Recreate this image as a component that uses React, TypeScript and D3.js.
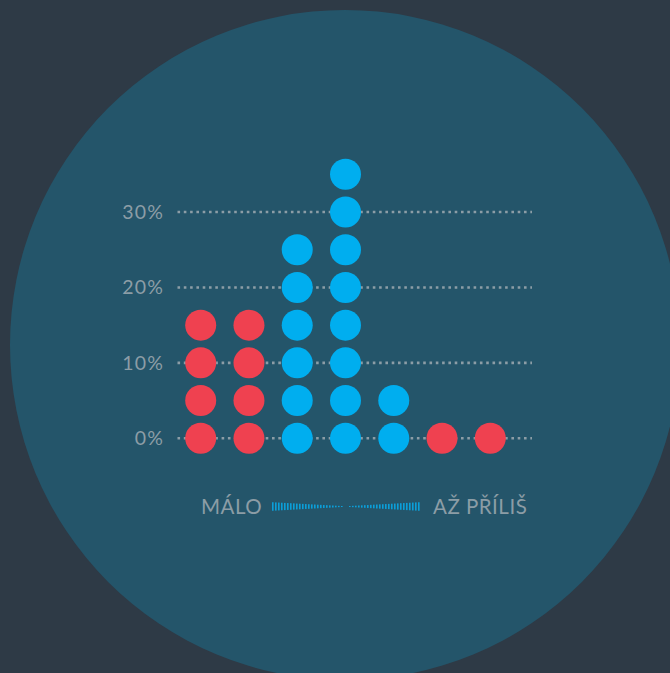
import React from "react";
import * as d3 from "d3";

const categories = ["1", "2", "3", "4", "5", "6", "7"];
const dotCounts = [4, 4, 6, 8, 2, 1, 1];
const dotColors = ["#ef4150", "#ef4150", "#00aeef", "#00aeef", "#00aeef", "#ef4150", "#ef4150"];
const tickValues = [0, 10, 20, 30];
const dotStep = 5;
const legendLeft = "MÁLO";
const legendRight = "AŽ PŘÍLIŠ";

const W = 670;
const H = 673;

export default function App() {
  const x = d3.scalePoint<string>().domain(categories).range([200.7, 490.3]);
  const y = d3.scaleLinear().domain([0, 30]).range([438.3, 212]);
  const font = "Lato, 'Noto Sans', sans-serif";
  const grey = "#8c9da6";

  const dots: { cx: number; cy: number; c: string; k: string }[] = [];
  categories.forEach((cat, i) => {
    for (let j = 0; j < dotCounts[i]; j++) {
      dots.push({ cx: x(cat)!, cy: y(j * dotStep), c: dotColors[i], k: cat + "-" + j });
    }
  });

  const nSide = 24;
  const leftMarks = d3.range(nSide).map((i) => ({ x: 272 + i * 3, h: 8.5 - (i * 7.5) / (nSide - 1) }));
  const rightMarks = d3.range(nSide).map((i) => ({ x: 349 + i * 3, h: 1 + (i * 7.5) / (nSide - 1) }));
  const legendY = 506.5;

  return (
    <svg width={W} height={H} style={{ position: "absolute", left: 0, top: 0 }}>
      <rect width={W} height={H} fill="#2e3a46" />
      <circle cx={345} cy={345} r={335} fill="#24556a" />
      {tickValues.map((t) => (
        <g key={t}>
          <line
            x1={177.5}
            x2={532}
            y1={y(t)}
            y2={y(t)}
            stroke={grey}
            strokeWidth={2.6}
            strokeDasharray="2.6,3.7"
          />
          <text
            x={164}
            y={y(t)}
            dy="0.36em"
            textAnchor="end"
            fill={grey}
            fontFamily={font}
            fontSize={19.5}
            letterSpacing={1.2}
          >
            {t}%
          </text>
        </g>
      ))}
      {dots.map((d) => (
        <circle key={d.k} cx={d.cx} cy={d.cy} r={15.5} fill={d.c} />
      ))}
      <text x={201} y={514} fill={grey} fontFamily={font} fontSize={20.5} letterSpacing={0.5}>
        {legendLeft}
      </text>
      {leftMarks.concat(rightMarks).map((m, i) => (
        <rect key={i} x={m.x} y={legendY - m.h / 2} width={1.6} height={m.h} fill="#0b9fd9" />
      ))}
      <text x={433} y={514} fill={grey} fontFamily={font} fontSize={20.5} letterSpacing={0.5}>
        {legendRight}
      </text>
    </svg>
  );
}
